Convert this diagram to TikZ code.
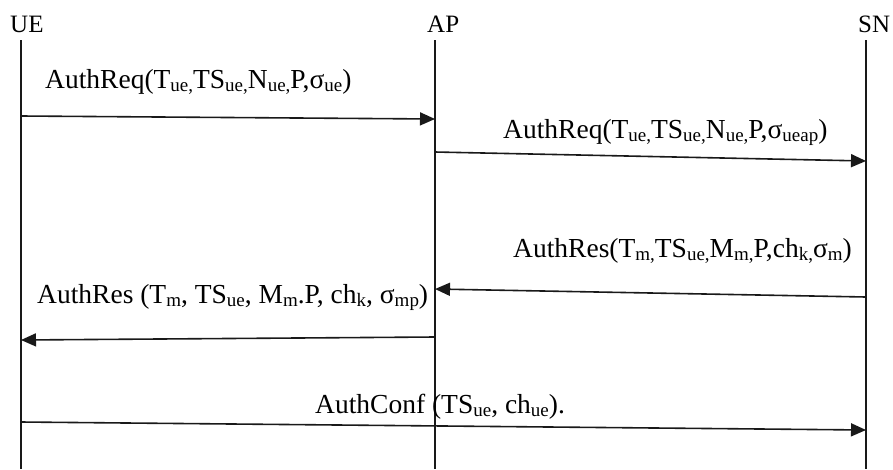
\documentclass[tikz,border=0pt]{standalone}
\usepackage{fontspec}
\setmainfont{Liberation Serif}
\usetikzlibrary{arrows.meta}

% subscript set small and slightly lowered, as in the message texts
\newcommand{\ssb}[1]{\raisebox{-0.12em}{\fontsize{19}{19}\selectfont #1}}

\begin{document}
\begin{tikzpicture}[x=1pt,y=-1pt,
  actor/.style={anchor=base west,inner sep=0pt,font=\fontsize{25}{28}\selectfont},
  lifeline/.style={line width=1.2pt,black!90},
  msg/.style={line width=1.6pt,black!90,-{Triangle[length=15pt,width=13pt]}},
  msgtext/.style={anchor=base west,inner sep=0pt,font=\fontsize{27.5}{32}\selectfont}]

\useasboundingbox (0,0) rectangle (893,469);

% participants
\node[actor] (ue) at (10,32) {UE};
\node[actor] (ap) at (427,32) {AP};
\node[actor] (sn) at (858,32) {SN};

% lifeline ends
\coordinate (ueT) at (21,40);  \coordinate (ueB) at (21,469);
\coordinate (apT) at (435,40); \coordinate (apB) at (435,469);
\coordinate (snT) at (866,40); \coordinate (snB) at (866,469);

\draw[lifeline] (ueT) -- (ueB);
\draw[lifeline] (apT) -- (apB);
\draw[lifeline] (snT) -- (snB);

% message end points on the lifelines
\coordinate (m1a) at (21,116);  \coordinate (m1b) at (435,119);
\coordinate (m2a) at (435,152); \coordinate (m2b) at (866,161);
\coordinate (m3a) at (866,297); \coordinate (m3b) at (435,289);
\coordinate (m4a) at (435,337); \coordinate (m4b) at (21,340);
\coordinate (m5a) at (21,422);  \coordinate (m5b) at (866,430);

\draw[msg] (m1a) -- (m1b);
\draw[msg] (m2a) -- (m2b);
\draw[msg] (m3a) -- (m3b);
\draw[msg] (m4a) -- (m4b);
\draw[msg] (m5a) -- (m5b);

% message texts
\node[msgtext] (t1) at (45,88)
  {AuthReq(T\ssb{ue,}TS\ssb{ue,}N\ssb{ue,}P,σ\ssb{ue})};
\node[msgtext] (t2) at (503,138)
  {AuthReq(T\ssb{ue,}TS\ssb{ue,}N\ssb{ue,}P,σ\ssb{ueap})};
\node[msgtext] (t3) at (513,257)
  {AuthRes(T\ssb{m,}TS\ssb{ue,}M\ssb{m,}P,ch\ssb{k,}σ\ssb{m})};
\node[msgtext] (t4) at (37,303)
  {AuthRes (T\ssb{m}, TS\ssb{ue}, M\ssb{m}.P, ch\ssb{k}, σ\ssb{mp})};
\node[msgtext] (t5) at (315,413)
  {AuthConf (TS\ssb{ue}, ch\ssb{ue}).};

\end{tikzpicture}
\end{document}
